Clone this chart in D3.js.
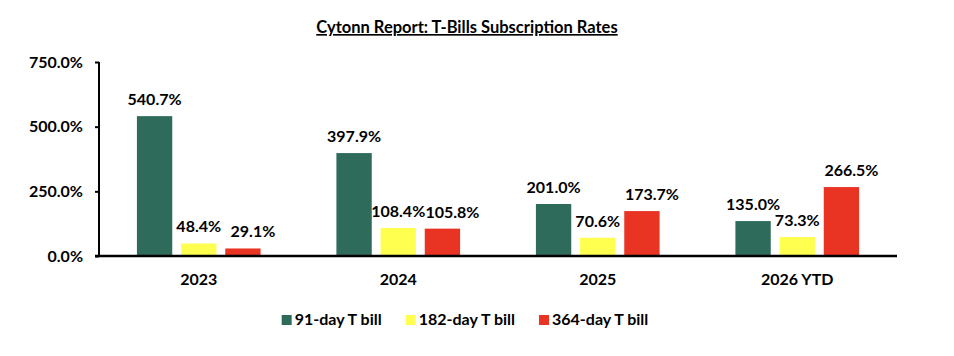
<!DOCTYPE html>
<html>
<head>
<meta charset="utf-8">
<script src="https://cdn.jsdelivr.net/npm/d3@7"></script>
<style>
  html, body { margin: 0; padding: 0; background: #fff; }
  svg { display: block; font-family: Lato, "Open Sans", sans-serif; }
</style>
</head>
<body>
<svg id="chart" width="954" height="356"></svg>
<script>
const title = "Cytonn Report: T-Bills Subscription Rates";
const categories = ["2023", "2024", "2025", "2026 YTD"];
const seriesNames = ["91-day T bill", "182-day T bill", "364-day T bill"];
const bill91 = [540.7, 397.9, 201.0, 135.0];
const bill182 = [48.4, 108.4, 70.6, 73.3];
const bill364 = [29.1, 105.8, 173.7, 266.5];
const yTicks = [0, 250, 500, 750];
const colors = ["#2E6B5B", "#FFFF50", "#E93424"];

const seriesValues = [bill91, bill182, bill364];
const svg = d3.select("#chart");
const margin = { left: 99, right: 57, top: 62, bottom: 100 };
const W = 954, H = 356;
const y0 = H - margin.bottom; // 256

const x0 = d3.scaleBand().domain(categories).range([margin.left, W - margin.right])
  .paddingInner(0.38).paddingOuter(0.19);
const x1 = d3.scaleBand().domain(seriesNames).range([0, x0.bandwidth()])
  .paddingInner(0.2).paddingOuter(0);
const y = d3.scaleLinear().domain([0, d3.max(yTicks)]).range([y0, margin.top]);

// Title
svg.append("text")
  .attr("x", 467).attr("y", 33)
  .attr("text-anchor", "middle")
  .attr("font-size", 16.5).attr("font-weight", "bold")
  .attr("text-decoration", "underline")
  .attr("fill", "#000")
  .text(title);

// Bars
const data = categories.map((c, i) => ({ cat: c, vals: seriesNames.map((s, j) => ({ s, j, v: seriesValues[j][i] })) }));
const groups = svg.append("g").selectAll("g").data(data).join("g")
  .attr("transform", d => `translate(${x0(d.cat)},0)`);
groups.selectAll("rect").data(d => d.vals).join("rect")
  .attr("x", d => x1(d.s))
  .attr("width", x1.bandwidth())
  .attr("y", d => y(d.v))
  .attr("height", d => y0 - y(d.v))
  .attr("fill", d => colors[d.j]);

// Data labels
const labelShift = [0, 0, 10];
groups.selectAll("text").data(d => d.vals).join("text")
  .attr("x", d => x1(d.s) + x1.bandwidth() / 2 + labelShift[d.j])
  .attr("y", d => y(d.v) - 11)
  .attr("text-anchor", "middle")
  .attr("font-size", 16).attr("font-weight", "bold")
  .attr("fill", "#000")
  .text(d => d.v.toFixed(1) + "%");

// Y axis
const yAxis = d3.axisLeft(y).tickValues(yTicks).tickSize(4).tickPadding(12)
  .tickFormat(d => d.toFixed(1) + "%");
const ya = svg.append("g").attr("transform", `translate(${margin.left},0)`).call(yAxis);
ya.select(".domain").attr("stroke", "#000").attr("stroke-width", 2)
  .attr("d", `M0,${y(d3.max(yTicks))}V${y0}`);
ya.selectAll(".tick line").attr("stroke", "#000").attr("stroke-width", 2);
ya.selectAll(".tick text").attr("font-size", 16).attr("font-weight", "bold")
  .attr("fill", "#000").attr("font-family", "Lato, sans-serif");

// X axis
const xAxis = d3.axisBottom(x0).tickSize(0).tickPadding(18);
const xa = svg.append("g").attr("transform", `translate(0,${y0})`).call(xAxis);
xa.select(".domain").attr("stroke", "#000").attr("stroke-width", 2.5)
  .attr("d", `M${margin.left - 4},0H${W - margin.right}`);
xa.selectAll(".tick text").attr("font-size", 16).attr("font-weight", "bold")
  .attr("fill", "#000").attr("font-family", "Lato, sans-serif");

// Legend
const legend = svg.append("g");
const items = legend.selectAll("g").data(seriesNames).join("g");
items.append("rect").attr("width", 10).attr("height", 10).attr("y", 315)
  .attr("fill", (d, i) => colors[i]);
items.append("text").attr("x", 13).attr("y", 325)
  .attr("font-size", 16).attr("font-weight", "bold").attr("fill", "#000")
  .text(d => d);
let xpos = 0;
const positions = [];
items.each(function() {
  positions.push(xpos);
  const w = d3.select(this).select("text").node().getComputedTextLength();
  xpos += 13 + w + 24;
});
const total = xpos - 24;
const start = 465 - total / 2;
items.attr("transform", (d, i) => `translate(${start + positions[i]},0)`);
</script>
</body>
</html>
